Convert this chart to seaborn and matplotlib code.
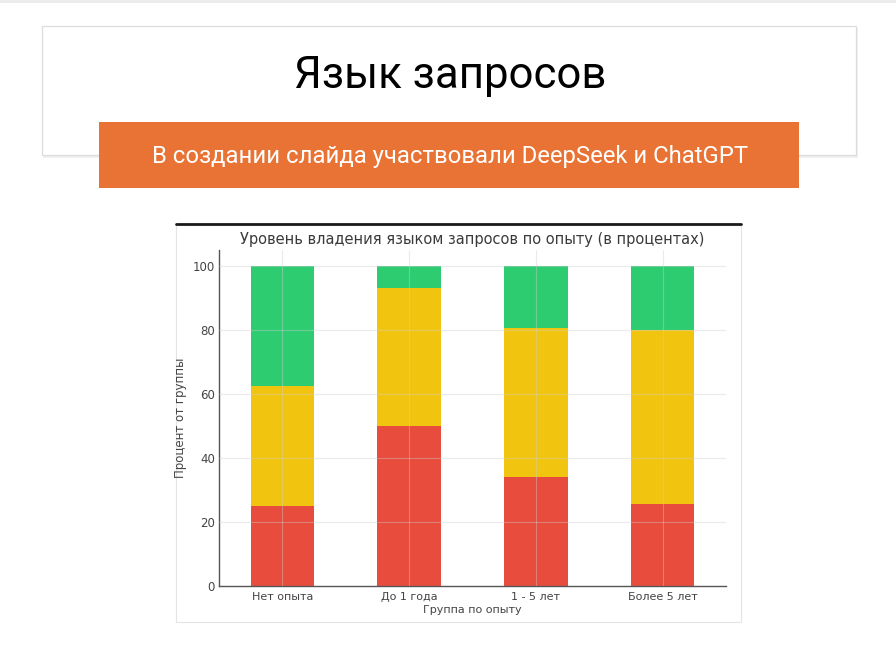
import matplotlib
matplotlib.use("Agg")
import matplotlib.pyplot as plt
from matplotlib.patches import Rectangle
from matplotlib.lines import Line2D
import seaborn as sns
import numpy as np

# ---- data ----
categories = ["Нет опыта", "До 1 года", "1 - 5 лет", "Более 5 лет"]
low = [25.0, 50.0, 34.0, 25.6]        # red segment
mid = [37.5, 43.0, 46.5, 54.4]        # yellow segment
high = [37.5, 7.0, 19.5, 20.0]        # green segment
yticks = [0, 20, 40, 60, 80, 100]

slide_title = "Язык запросов"
slide_banner = "В создании слайда участвовали DeepSeek и ChatGPT"
chart_title = "Уровень владения языком запросов по опыту (в процентах)"
x_label = "Группа по опыту"
y_label = "Процент от группы"

RED = "#E74C3C"
YELLOW = "#F1C40F"
GREEN = "#2ECC71"

sns.set_style("white")
plt.rcParams["font.family"] = ["DejaVu Sans"]

W, H = 896, 663
fig = plt.figure(figsize=(W / 100, H / 100), dpi=100)
fig.patch.set_facecolor("white")


def px_rect(x0, y0, x1, y1, **kw):
    return Rectangle((x0 / W, 1 - y1 / H), (x1 - x0) / W, (y1 - y0) / H,
                     transform=fig.transFigure, **kw)


# top light strip
fig.patches.append(px_rect(0, 0, W, 3, facecolor="#ececec", edgecolor="none", zorder=0))
# title box shadow + box
fig.patches.append(px_rect(43, 28, 858, 158, facecolor="#f0f0f0", edgecolor="none", zorder=1))
fig.patches.append(px_rect(42, 26, 856, 155, facecolor="white", edgecolor="#dddddd", lw=0.9, zorder=2))
# orange banner
fig.patches.append(px_rect(99, 122, 799, 188, facecolor="#E87334", edgecolor="none", zorder=3))

title_font = ["Roboto", "DejaVu Sans"]
fig.text(450 / W, 1 - 76 / H, slide_title, ha="center", va="center",
         fontsize=31.5, color="black", family=title_font, zorder=4)
fig.text(450 / W, 1 - 156 / H, slide_banner, ha="center", va="center",
         fontsize=17.2, color="white", family=title_font, zorder=4)

# chart image frame
fig.patches.append(px_rect(176, 224, 741, 622, facecolor="white", edgecolor="#e4e4e4", lw=0.8, zorder=1))
fig.lines.append(Line2D([176 / W, 741 / W], [1 - 224 / H, 1 - 224 / H],
                        transform=fig.transFigure, color="#1a1a1a", lw=2.0, zorder=5))

# ---- axes ----
ax_l, ax_r, ax_b, ax_t = 219, 726, 586, 250
ax = fig.add_axes([ax_l / W, 1 - ax_b / H, (ax_r - ax_l) / W, (ax_b - ax_t) / H])
ax.set_zorder(6)
ax.patch.set_alpha(0)

cum_mid = [a + b for a, b in zip(low, mid)]
cum_high = [a + b + c for a, b, c in zip(low, mid, high)]

sns.barplot(x=categories, y=cum_high, color=GREEN, width=0.5, saturation=1,
            linewidth=0, ax=ax)
sns.barplot(x=categories, y=cum_mid, color=YELLOW, width=0.5, saturation=1,
            linewidth=0, ax=ax)
sns.barplot(x=categories, y=low, color=RED, width=0.5, saturation=1,
            linewidth=0, ax=ax)

ax.set_xlim(-0.5, len(categories) - 0.5)
ax.set_ylim(0, 105)
ax.set_yticks(yticks)

ax.set_axisbelow(False)
ax.grid(True, color="#cfcfcf", alpha=0.4, lw=0.8)

for s in ["top", "right"]:
    ax.spines[s].set_visible(False)
for s in ["left", "bottom"]:
    ax.spines[s].set_color("#555555")
    ax.spines[s].set_linewidth(1.0)

ax.tick_params(axis="x", length=3, width=1, color="#333333", labelsize=8,
               labelcolor="#444444", pad=1.5, direction="out")
ax.tick_params(axis="y", length=0, labelsize=8.5, labelcolor="#444444", pad=3)

ax.set_title(chart_title, fontsize=10.5, color="#3a3a3a", pad=4)
ax.set_xlabel(x_label, fontsize=8, color="#444444", labelpad=2)
ax.set_ylabel(y_label, fontsize=8.5, color="#444444", labelpad=4)

fig.savefig("out.png", dpi=100, facecolor="white")
